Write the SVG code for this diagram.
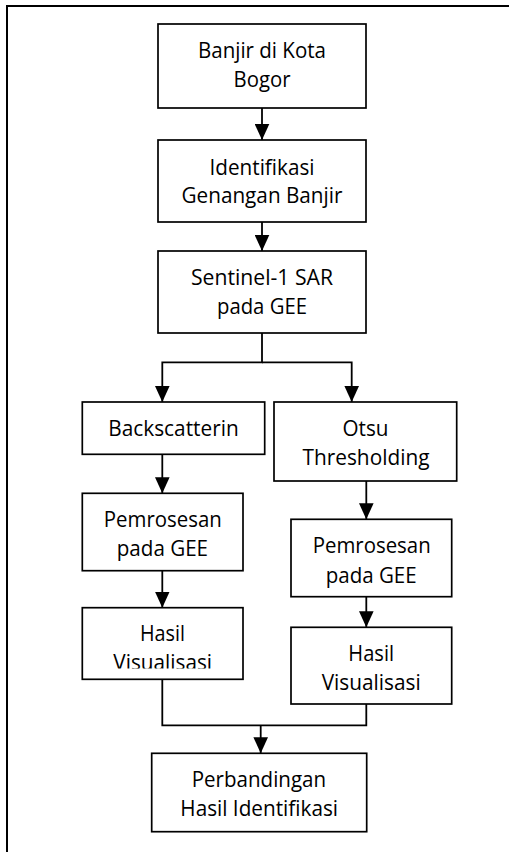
<svg xmlns="http://www.w3.org/2000/svg" width="509" height="852" viewBox="0 0 509 852">
<style>
.box{fill:#fff;stroke:#000;stroke-width:1.7}
.t{font-family:"Open Sans","Noto Sans","Liberation Sans",sans-serif;font-size:22px;fill:#000;text-anchor:middle}
.c{fill:none;stroke:#000;stroke-width:1.8}
.frame{fill:none;stroke:#000;stroke-width:2}
</style>
<defs>
<marker id="ah" markerUnits="userSpaceOnUse" markerWidth="16" markerHeight="15" viewBox="0 -7.5 16 15" refX="16" refY="0" orient="auto">
<path d="M0,-7.3 L16,0 L0,7.3 z" fill="#000"/>
</marker>
<clipPath id="clipL"><rect x="82" y="608" width="162" height="60.5"/></clipPath>
</defs>
<path class="frame" d="M7,852 V6 H509"/>
<g id="connectors">
<line class="c" x1="262" y1="108" x2="262" y2="140" marker-end="url(#ah)"/>
<line class="c" x1="262" y1="222" x2="262" y2="251" marker-end="url(#ah)"/>
<path class="c" d="M262,333 V362.3 H162.3 V402" marker-end="url(#ah)"/>
<path class="c" d="M262,362.3 H351.7 V402" marker-end="url(#ah)"/>
<line class="c" x1="162.3" y1="454.3" x2="162.3" y2="493.3" marker-end="url(#ah)"/>
<line class="c" x1="366.3" y1="481" x2="366.3" y2="519.3" marker-end="url(#ah)"/>
<line class="c" x1="162.3" y1="570.7" x2="162.3" y2="607.7" marker-end="url(#ah)"/>
<line class="c" x1="366.3" y1="596.7" x2="366.3" y2="627.3" marker-end="url(#ah)"/>
<path class="c" d="M162.3,679.3 V725.3 H366.3 V704"/>
<line class="c" x1="260.7" y1="725.3" x2="260.7" y2="753.3" marker-end="url(#ah)"/>
</g>
<g id="n1">
<rect class="box" x="158" y="24" width="208" height="84"/>
<text class="t" x="262" y="58.3" textLength="128" lengthAdjust="spacingAndGlyphs">Banjir di Kota</text>
<text class="t" x="262" y="87.3" textLength="57" lengthAdjust="spacingAndGlyphs">Bogor</text>
</g>
<g id="n2">
<rect class="box" x="158" y="140" width="208" height="82"/>
<text class="t" x="262" y="175" textLength="105" lengthAdjust="spacingAndGlyphs">Identifikasi</text>
<text class="t" x="262" y="203.3" textLength="161" lengthAdjust="spacingAndGlyphs">Genangan Banjir</text>
</g>
<g id="n3">
<rect class="box" x="158" y="251" width="208" height="82"/>
<text class="t" x="262" y="285" textLength="142" lengthAdjust="spacingAndGlyphs">Sentinel-1 SAR</text>
<text class="t" x="262" y="314.3" textLength="90" lengthAdjust="spacingAndGlyphs">pada GEE</text>
</g>
<g id="n4">
<rect class="box" x="82.3" y="402" width="182.4" height="52.3"/>
<text class="t" x="173.5" y="436" textLength="130.5" lengthAdjust="spacingAndGlyphs">Backscatterin</text>
</g>
<g id="n5">
<rect class="box" x="274" y="402" width="182.7" height="79"/>
<text class="t" x="365.5" y="436" textLength="46" lengthAdjust="spacingAndGlyphs">Otsu</text>
<text class="t" x="366" y="465" textLength="127" lengthAdjust="spacingAndGlyphs">Thresholding</text>
</g>
<g id="n6">
<rect class="box" x="82.3" y="493.3" width="160.7" height="77.4"/>
<text class="t" x="162.8" y="526.7" textLength="118" lengthAdjust="spacingAndGlyphs">Pemrosesan</text>
<text class="t" x="162.4" y="556" textLength="91.3" lengthAdjust="spacingAndGlyphs">pada GEE</text>
</g>
<g id="n7">
<rect class="box" x="291" y="519.3" width="160.7" height="77.4"/>
<text class="t" x="371.7" y="553.3" textLength="118" lengthAdjust="spacingAndGlyphs">Pemrosesan</text>
<text class="t" x="371.2" y="582.7" textLength="91" lengthAdjust="spacingAndGlyphs">pada GEE</text>
</g>
<g id="n8">
<rect class="box" x="82.3" y="607.7" width="160.7" height="71.6"/>
<text class="t" x="162.5" y="641" textLength="45" lengthAdjust="spacingAndGlyphs">Hasil</text>
<text class="t" x="162.7" y="670" textLength="98.7" lengthAdjust="spacingAndGlyphs" clip-path="url(#clipL)">Visualisasi</text>
</g>
<g id="n9">
<rect class="box" x="291" y="627.3" width="160.7" height="76.7"/>
<text class="t" x="371.2" y="660.7" textLength="45.7" lengthAdjust="spacingAndGlyphs">Hasil</text>
<text class="t" x="371.2" y="690" textLength="99" lengthAdjust="spacingAndGlyphs">Visualisasi</text>
</g>
<g id="n10">
<rect class="box" x="151.7" y="753.3" width="215" height="78.4"/>
<text class="t" x="258.9" y="787.3" textLength="134.3" lengthAdjust="spacingAndGlyphs">Perbandingan</text>
<text class="t" x="259.2" y="816" textLength="157.7" lengthAdjust="spacingAndGlyphs">Hasil Identifikasi</text>
</g>
</svg>
